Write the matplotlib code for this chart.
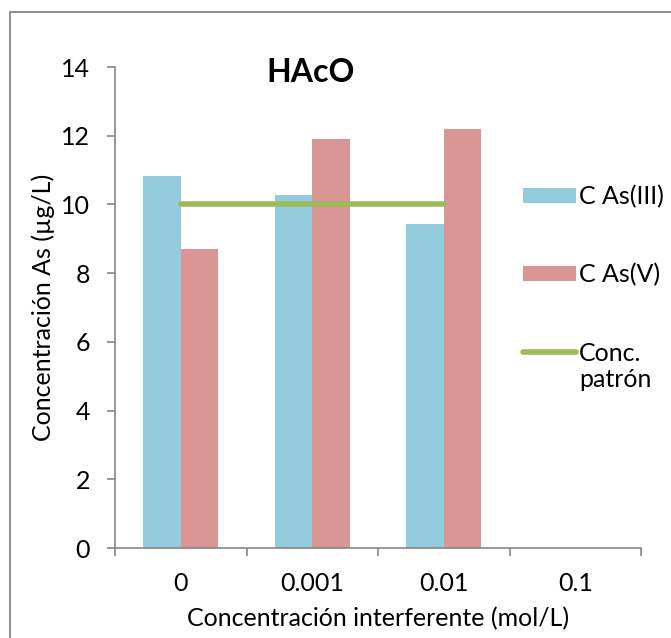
#!/usr/bin/env python3
"""HAcO interference chart: As(III) / As(V) vs. interferent concentration."""

import matplotlib.pyplot as plt
from matplotlib.patches import Rectangle
import numpy as np

plt.rcParams['font.family'] = ['Lato', 'DejaVu Sans']

categories = ["0", "0.001", "0.01", "0.1"]
as_iii = [10.82, 10.27, 9.42, np.nan]
as_v = [8.71, 11.89, 12.20, np.nan]
patron = [10, 10, 10, np.nan]

BLUE, RED, GREEN, GREY = "#93CDDD", "#D99694", "#9BBB59", "#868686"
FS = 18

fig = plt.figure(figsize=(6.71, 6.38), dpi=100)
ax = fig.add_axes([115 / 671, 1 - 548 / 638, 526 / 671, 481 / 638])

x = np.arange(len(categories))
w = 1 / 3.5
b1 = ax.bar(x - w / 2, as_iii, w, color=BLUE, label="C As(III)")
b2 = ax.bar(x + w / 2, as_v, w, color=RED, label="C As(V)")
l1, = ax.plot(x, patron, color=GREEN, lw=4, solid_capstyle="round", label="Conc.")

ax.set_xlim(-0.5, len(categories) - 0.5)
ax.set_ylim(0, 14)
ax.set_yticks(range(0, 15, 2))
ax.set_xticks(np.arange(-0.5, len(categories), 1))
ax.set_xticklabels([])
ax.set_xticks(x, minor=True)
ax.set_xticklabels(categories, minor=True)
ax.tick_params(axis="x", which="minor", length=0, pad=17, labelsize=FS)
ax.tick_params(axis="both", which="major", length=6, width=1.2, color=GREY, labelsize=FS, pad=6)
ax.tick_params(axis="y", pad=12)

for side in ("top", "right"):
    ax.spines[side].set_visible(False)
for side in ("left", "bottom"):
    ax.spines[side].set_color(GREY)
    ax.spines[side].set_linewidth(1.2)

ax.set_xlabel("Concentración interferente (mol/L)", fontsize=FS, labelpad=9)
ax.set_ylabel("Concentración As (µg/L)", fontsize=FS, labelpad=4)

fig.text(311 / 671, 1 - 73 / 638, "HAcO", fontsize=23, fontweight="bold",
         ha="center", va="center")

leg = fig.legend(handles=[b1, b2, l1], loc="upper left",
                 bbox_to_anchor=(523 / 671, 1 - 185 / 638),
                 frameon=False, fontsize=FS, handlelength=2.1, handleheight=0.56,
                 handletextpad=0.15, labelspacing=2.2, borderpad=0,
                 borderaxespad=0)

# second line of the last legend label, placed under "Conc."
fig.canvas.draw()
bb = leg.get_texts()[2].get_window_extent().transformed(fig.transFigure.inverted())
fig.text(bb.x0, bb.y0 - 0.005, "patrón", fontsize=FS, ha="left", va="top")

# outer chart border (only top/left fall inside the image)
fig.patches.append(Rectangle((10 / 671, -0.1), 1.2, 1 - 12 / 638 + 0.1,
                             transform=fig.transFigure, fill=False,
                             edgecolor=GREY, lw=1.3))

fig.savefig("out.png", dpi=100)
